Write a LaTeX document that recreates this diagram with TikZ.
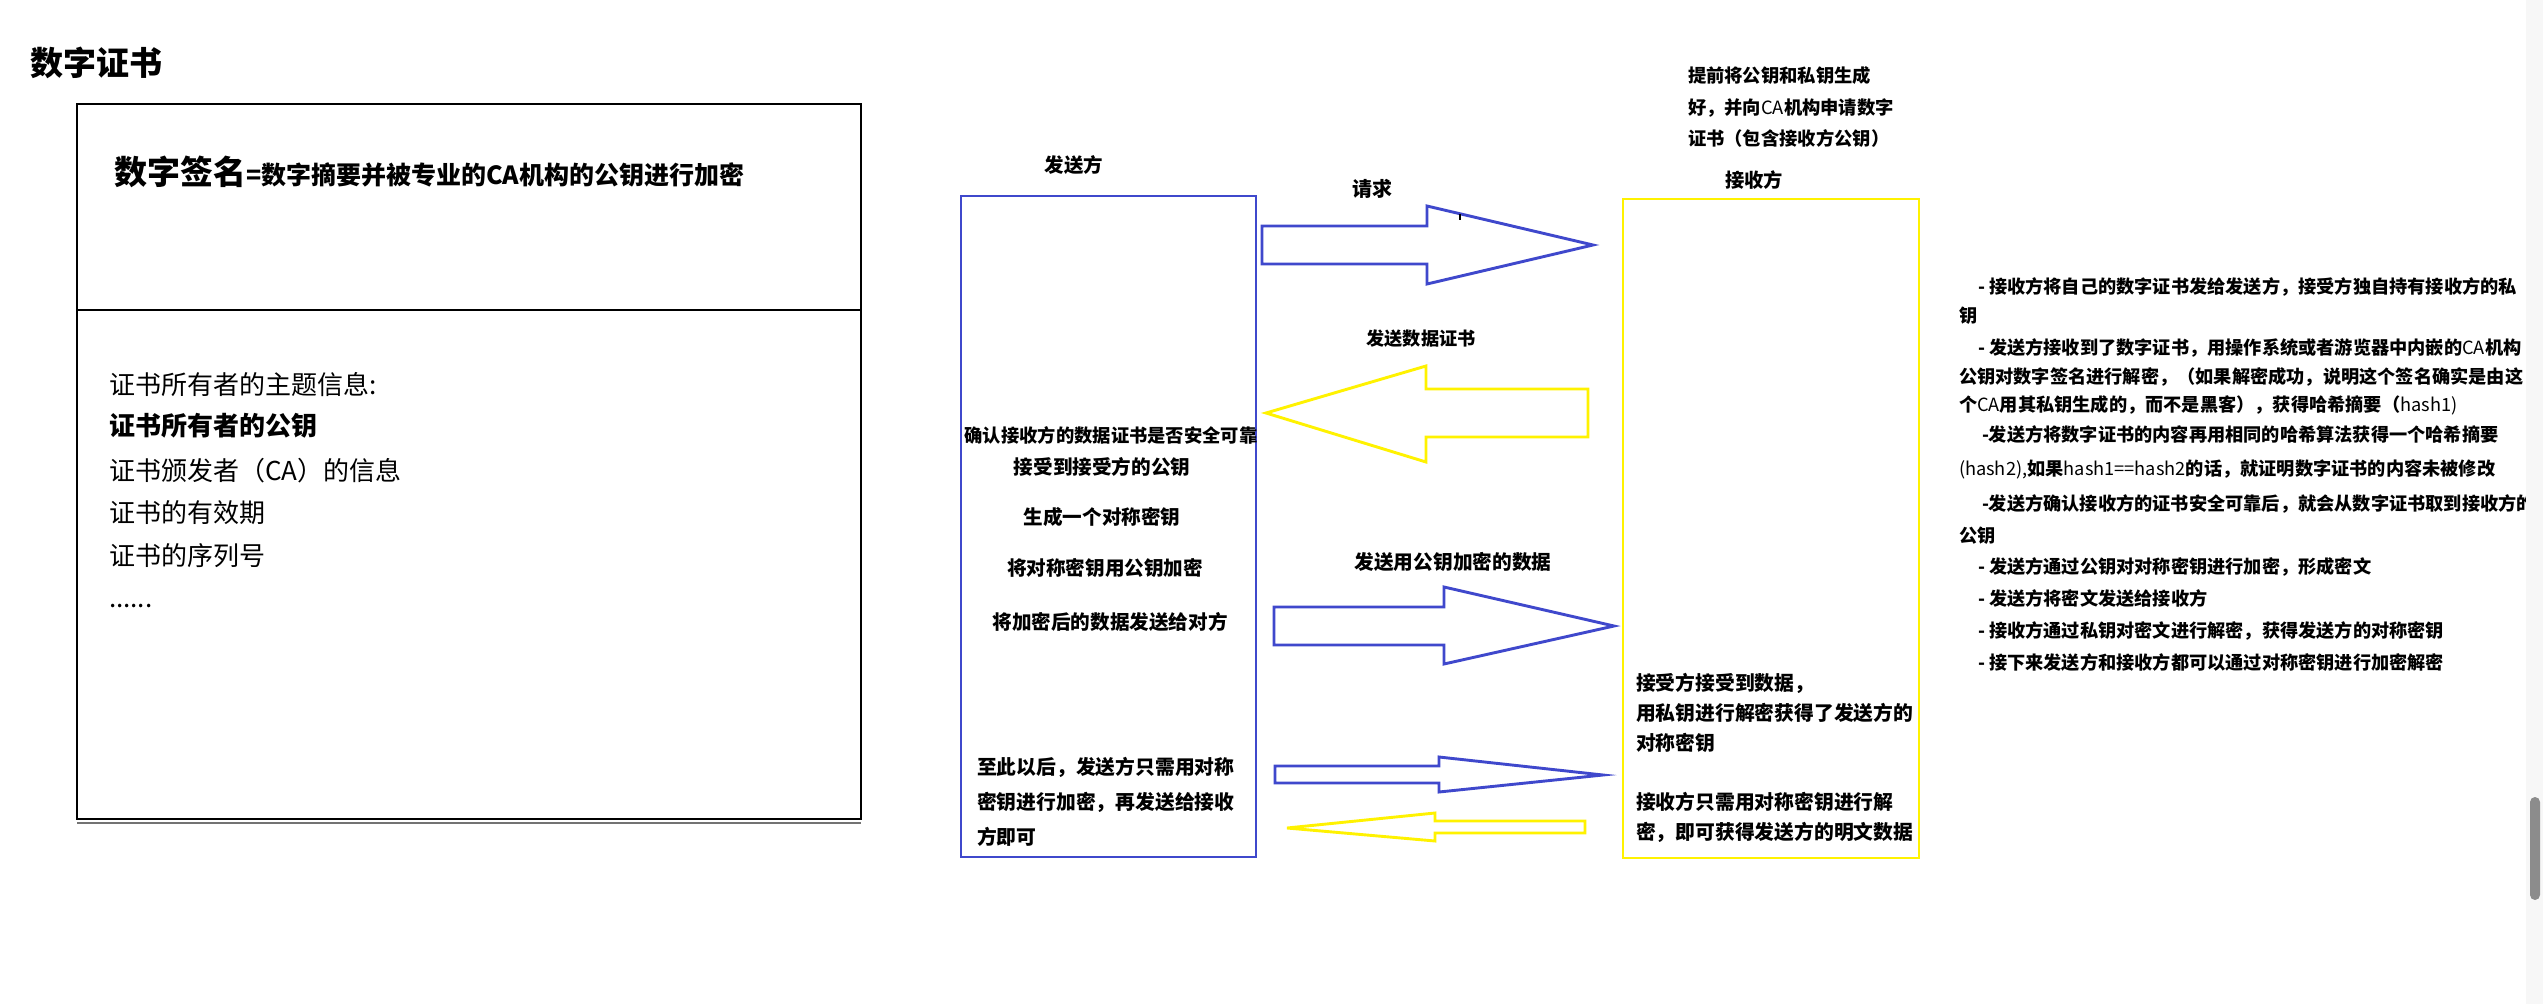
\documentclass[tikz,border=0pt]{standalone}
\usepackage{fontspec}
\setmainfont{Noto Sans CJK SC}
\definecolor{pblue}{HTML}{3F48CC}
\definecolor{pyel}{HTML}{FFF200}
\definecolor{strip}{HTML}{F7F7F7}
\definecolor{thumb}{HTML}{8C8C8C}
\newcommand\myfs[1]{\fontsize{#1}{#1}\selectfont}
\begin{document}
\begin{tikzpicture}[x=1pt,y=-1pt,
  every node/.style={inner sep=0pt,outer sep=0pt},
  lt/.style={anchor=base west,font=\bfseries},
  ct/.style={anchor=base,font=\bfseries},
  rt/.style={anchor=base west,font=\bfseries\myfs{18.2}},
  bluearrow/.style={draw=pblue,line width=2.9,line join=miter},
  yelarrow/.style={draw=pyel,line width=2.9,line join=miter}]
\useasboundingbox (0,0) rectangle (2543,1004);
\fill[white] (0,0) rectangle (2543,1004);

% title
\node[lt] (title) at (30,75) {\myfs{33}数字证书};

% certificate box
\node[draw=black,line width=2.6,minimum width=784,minimum height=715,anchor=north west] (certbox) at (77,104) {};
\draw[black,line width=2.6] (77,310) -- (861,310);
\draw[black!55,line width=1.6] (77,823) -- (861,823);
\node[lt] (sig) at (114,184.5) {\myfs{33}数字签名\myfs{25}=数字摘要并被专业的CA机构的公钥进行加密};
\node[anchor=base west] (l1) at (109,394) {\myfs{26}证书所有者的主题信息:};
\node[lt] (l2) at (109,435) {\myfs{26}证书所有者的公钥};
\node[anchor=base west] (l3) at (109,480) {\myfs{26}证书颁发者（CA）的信息};
\node[anchor=base west] (l4) at (109,522) {\myfs{26}证书的有效期};
\node[anchor=base west] (l5) at (109,565) {\myfs{26}证书的序列号};
\node[anchor=base west] (l6) at (109,607) {\myfs{26}......};

% sender
\node[ct] (sendlbl) at (1074,172.4) {\myfs{19.5}发送方};
\node[draw=pblue,line width=2.6,minimum width=295,minimum height=661,anchor=north west] (sender) at (961,196) {};
\node[ct] (s1) at (1111,442) {\myfs{18.3}确认接收方的数据证书是否安全可靠};
\node[ct] (s2) at (1102,474.5) {\myfs{19.6}接受到接受方的公钥};
\node[ct] (s3) at (1102,524.5) {\myfs{19.6}生成一个对称密钥};
\node[ct] (s4) at (1105,575.5) {\myfs{19.6}将对称密钥用公钥加密};
\node[ct] (s5) at (1110,629.5) {\myfs{19.6}将加密后的数据发送给对方};
\node[lt] (p1) at (977,774.5) {\myfs{19.8}至此以后，发送方只需用对称};
\node[lt] (p2) at (977,809.5) {\myfs{19.8}密钥进行加密，再发送给接收};
\node[lt] (p3) at (977,844.5) {\myfs{19.8}方即可};

% receiver
\node[lt] (n1) at (1688,82) {\myfs{18.3}提前将公钥和私钥生成};
\node[lt] (n2) at (1688,114) {\myfs{18.3}好，并向{\mdseries CA}机构申请数字};
\node[lt] (n3) at (1688,145) {\myfs{18.3}证书（包含接收方公钥）};
\node[ct] (recvlbl) at (1754,187.3) {\myfs{19.3}接收方};
\node[draw=pyel,line width=2.6,minimum width=296,minimum height=659,anchor=north west] (receiver) at (1623,199) {};
\node[lt] (r1) at (1636,690.5) {\myfs{19.8}接受方接受到数据，};
\node[lt] (r2) at (1636,720.5) {\myfs{19.8}用私钥进行解密获得了发送方的};
\node[lt] (r3) at (1636,750.5) {\myfs{19.8}对称密钥};
\node[lt] (r4) at (1636,809.5) {\myfs{19.8}接收方只需用对称密钥进行解};
\node[lt] (r5) at (1636,839.5) {\myfs{19.8}密，即可获得发送方的明文数据};

% arrow labels
\node[ct] (req) at (1372,196.6) {\myfs{20}请求};
\node[ct] (certlbl) at (1421,345) {\myfs{18.2}发送数据证书};
\node[ct] (enclbl) at (1453,569.5) {\myfs{19.7}发送用公钥加密的数据};

% block arrows
\draw[bluearrow] (1262,226) -- (1427,226) -- (1427,206) -- (1593,245) -- (1427,284) -- (1427,264) -- (1262,264) -- cycle;
\draw[black,line width=1.5] (1460,214) -- (1460,220);
\draw[yelarrow] (1588,389) -- (1426,389) -- (1426,366) -- (1266,413) -- (1426,462) -- (1426,437) -- (1588,437) -- cycle;
\draw[bluearrow] (1274,607) -- (1444,607) -- (1444,587) -- (1614,626) -- (1444,664) -- (1444,645) -- (1274,645) -- cycle;
\draw[bluearrow] (1275,766) -- (1439,766) -- (1439,757) -- (1603,775) -- (1439,792) -- (1439,783) -- (1275,783) -- cycle;
\draw[yelarrow] (1585,821) -- (1435,821) -- (1435,813) -- (1287,828) -- (1435,841) -- (1435,833) -- (1585,833) -- cycle;

% right notes
\node[rt] (t1) at (1978,293) {- 接收方将自己的数字证书发给发送方，接受方独自持有接收方的私};
\node[rt] (t2) at (1959,322) {钥};
\node[rt] (t3) at (1978,354) {- 发送方接收到了数字证书，用操作系统或者游览器中内嵌的{\mdseries CA}机构};
\node[rt] (t4) at (1959,383) {公钥对数字签名进行解密，（如果解密成功，说明这个签名确实是由这};
\node[rt] (t5) at (1959,411) {个{\mdseries CA}用其私钥生成的，而不是黑客），获得哈希摘要（{\mdseries hash1)}};
\node[rt] (t6) at (1982,441) {-发送方将数字证书的内容再用相同的哈希算法获得一个哈希摘要};
\node[rt] (t7) at (1959,475) {{\mdseries (hash2),}如果{\mdseries hash1==hash2}的话，就证明数字证书的内容未被修改};
\node[rt] (t8) at (1982,510) {-发送方确认接收方的证书安全可靠后，就会从数字证书取到接收方的};
\node[rt] (t9) at (1959,542) {公钥};
\node[rt] (t10) at (1978,573) {- 发送方通过公钥对对称密钥进行加密，形成密文};
\node[rt] (t11) at (1978,605) {- 发送方将密文发送给接收方};
\node[rt] (t12) at (1978,637) {- 接收方通过私钥对密文进行解密，获得发送方的对称密钥};
\node[rt] (t13) at (1978,669) {- 接下来发送方和接收方都可以通过对称密钥进行加密解密};

% scrollbar strip
\fill[strip] (2526,0) rectangle (2543,1004);
\fill[thumb,rounded corners=5] (2530,797) rectangle (2540,900);
\end{tikzpicture}
\end{document}
